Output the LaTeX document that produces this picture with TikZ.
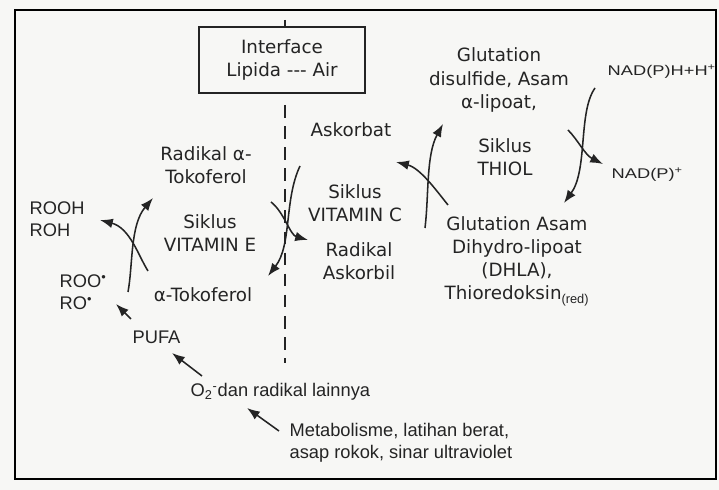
\documentclass[tikz,border=0pt]{standalone}
\usepackage{fontspec}
\setmainfont{DejaVu Sans}
\newfontfamily\arialfont{Liberation Sans}
\usepackage{tikz}
\usetikzlibrary{arrows.meta,positioning,calc}
\definecolor{ink}{HTML}{242424}
\definecolor{paper}{HTML}{F7F7F5}
\newcommand{\radot}{\textsuperscript{\textbullet}}

\begin{document}
\begin{tikzpicture}[
  x=0.025cm,y=-0.025cm,
  font=\fontsize{13}{16.5}\selectfont,text=ink,
  lbl/.style={align=center,inner sep=1pt},
  chem/.style={anchor=west,align=left,inner sep=1pt,
               font=\arialfont\fontsize{13}{15.5}\selectfont},
  nad/.style={anchor=west,inner sep=1pt,
              font=\arialfont\fontsize{10}{12}\selectfont},
  cyc/.style={-{Latex[length=3.2mm,width=2.4mm]},draw=ink,line width=1.1pt},
  wall/.style={draw=ink,line width=1.8pt,dash pattern=on 9pt off 6pt}
]
\fill[paper] (0,0) rectangle (719,490);
\useasboundingbox (0,0) rectangle (719,490);
\draw[black,line width=1.7pt] (15,10) rectangle (716,479);

% ---- interface and wall
\node[draw=ink,line width=1pt,minimum width=4.15cm,minimum height=1.65cm,
      align=center] (iface) at (282,60) {Interface\\Lipida -{}-{}- Air};
\coordinate (tick) at (285,20);
\coordinate (dtop) at (285,105);
\coordinate (dbot) at (285,363);
\draw[ink,line width=1pt] (tick) -- (tick |- iface.north);
\draw[wall] (dtop) -- (dbot);

% ---- vitamin E cycle
\node[lbl] (radtoko) at (206,165) {Radikal α-\\Tokoferol};
\node[lbl] (sikE) at (210,233) {Siklus\\VITAMIN E};
\node[lbl] (atoko) at (203,295) {α-Tokoferol};
\node[chem] (rooh) at (28,219) {ROOH\\ROH};
\node[chem] (roo) at (58,292) {ROO\radot\\RO\radot};
\coordinate (e1) at (128,292);
\coordinate (e2) at (153,198);
\coordinate (e3) at (148,271);
\coordinate (e4) at (100,220);
\draw[cyc] (e1) .. controls (133,265) and (130,225) .. (e2);
\draw[cyc] (e3) .. controls (138,255) and (130,228) .. (e4);

% ---- vitamin C cycle
\node[lbl] (askorbat) at (351,130) {Askorbat};
\node[lbl] (sikC) at (355,203) {Siklus\\VITAMIN C};
\node[lbl] (radask) at (359,261) {Radikal\\Askorbil};
\coordinate (c1) at (300,166);
\coordinate (c2) at (268,276);
\coordinate (c3) at (271,202);
\coordinate (c4) at (308,240);
\draw[cyc] (c1) .. controls (284,200) and (292,245) .. (c2);
\draw[cyc] (c3) .. controls (284,212) and (290,235) .. (c4);

% ---- thiol cycle
\node[lbl] (gssg) at (499,80) {Glutation\\disulfide, Asam\\α-lipoat,};
\node[lbl] (sikT) at (505,157) {Siklus\\THIOL};
\node[lbl] (dhla) at (517,261)
  {Glutation Asam\\Dihydro-lipoat\\(DHLA),\\Thioredoksin{\arialfont\textsubscript{(red)}}};
\node[nad] (nadh) at (606,72) {\scalebox{1.3}[1]{NAD(P)H+H\textsuperscript{+}}};
\node[nad] (nadp) at (610,175) {\scalebox{1.3}[1]{NAD(P)\textsuperscript{+}}};
\coordinate (t1) at (425,228);
\coordinate (t2) at (443,124);
\coordinate (t3) at (448,205);
\coordinate (t4) at (396,162);
\draw[cyc] (t1) .. controls (429,195) and (426,155) .. (t2);
\draw[cyc] (t3) .. controls (436,190) and (420,168) .. (t4);
\coordinate (t5) at (595,88);
\coordinate (t6) at (564,203);
\coordinate (t7) at (568,130);
\coordinate (t8) at (603,164);
\draw[cyc] (t5) .. controls (578,112) and (588,170) .. (t6);
\draw[cyc] (t7) .. controls (578,140) and (585,155) .. (t8);

% ---- radical sources
\node[chem] (pufa) at (131,337) {PUFA};
\node[chem] (otwo) at (189,392)
  {O\textsubscript{2}\textsuperscript{-}dan radikal lainnya};
\node[chem] (metab) at (288,443)
  {Metabolisme, latihan berat,\\asap rokok, sinar ultraviolet};
\coordinate (s1) at (131,319);
\coordinate (s2) at (116,304);
\coordinate (s3) at (202,376);
\coordinate (s4) at (172,353);
\coordinate (s5) at (279,431);
\coordinate (s6) at (247,408);
\draw[cyc] (s1) -- (s2);
\draw[cyc] (s3) -- (s4);
\draw[cyc] (s5) -- (s6);
\end{tikzpicture}
\end{document}
